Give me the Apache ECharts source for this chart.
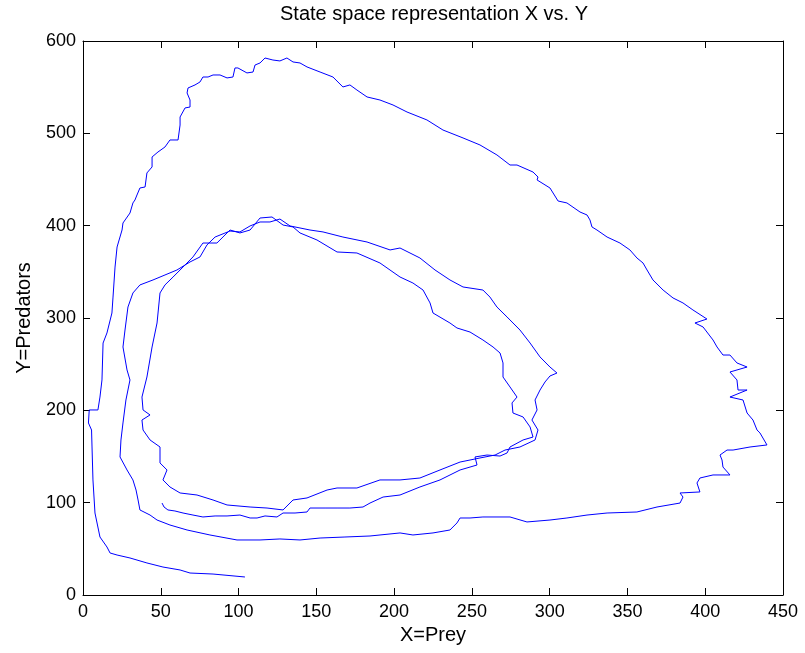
<!DOCTYPE html>
<html>
<head>
<meta charset="utf-8">
<script src="https://cdn.jsdelivr.net/npm/echarts@6/dist/echarts.min.js"></script>
<style>
html,body{margin:0;padding:0;background:#fff;}
#chart{width:805px;height:653px;}
</style>
</head>
<body>
<div id="chart"></div>
<script>
// Axis ticks
const xTicks = [0, 50, 100, 150, 200, 250, 300, 350, 400, 450];
const yTicks = [0, 100, 200, 300, 400, 500, 600];

// Trajectory, in segments (prey X, predators Y)
const firstLoopPrey = [50.8,52.1,54.6,59.1,64.3,70.7,77.1,84.9,92.6,100.9,107.4,111.9,117.0,124.7,128.6,136.3,144.0,145.9,155.6,163.3,171.6,180.0,184.5,192.9,203.8,216.6,229.5,242.4,253.3,252.0,259.7,268.1,272.6,274.5,282.9,289.3,287.4,282.9,276.4,275.8,279.0,274.5,270.0,270.0,268.1,263.6,257.1,248.8,240.4,235.9,225.0,223.1,218.6,212.1,203.8,190.9,176.1,163.3,150.4,139.5,135.0,128.6,121.5,113.8,107.4,100.9,94.5,86.1,77.1,70.7,64.3,57.9,52.7,49.5,47.6,44.4,41.1,37.9,38.6,43.1,37.9,38.6,43.1,49.5,49.5,54.0,51.4,55.9,62.4];
const firstLoopPred = [99.6,95.3,92.1,91.0,88.8,86.6,84.5,85.6,85.6,86.6,83.4,83.4,85.6,84.5,88.8,88.8,89.9,94.2,94.2,94.2,94.2,95.3,99.6,106.1,108.3,117.0,124.6,135.4,140.8,149.5,151.6,150.5,153.8,160.3,167.9,171.1,182.0,192.8,197.1,208.0,214.4,225.3,236.1,251.3,262.1,268.6,276.2,284.8,289.2,294.6,305.4,316.3,330.3,337.9,344.4,359.6,370.4,371.5,384.5,392.1,398.6,400.7,409.4,408.3,395.3,392.1,395.3,381.2,381.2,366.1,355.2,344.4,335.8,327.1,294.6,268.6,236.1,214.4,200.4,195.0,189.5,178.7,167.9,160.3,143.0,135.4,124.6,117.0,110.5];

const secondLoopPrey = [73.3,83.6,92.6,107.4,118.3,128.6,135.0,144.0,156.9,163.3,176.1,190.9,203.8,216.6,229.5,242.4,255.2,264.9,271.3,280.9,290.6,292.5,288.6,291.9,290.6,293.8,297.0,300.2,304.7,300.2,293.8,287.4,280.9,272.6,266.1,261.6,257.1,244.3,235.9,226.3,216.6,203.8,197.4,182.6,167.1,154.3,145.9,139.5,133.1,126.6,120.2,113.8,107.4,100.9,94.5,84.9,79.7,75.2,68.8,60.4,52.7,45.0,36.6,32.1,28.9,27.0,25.7,28.3,30.2,27.6,25.7,24.4,23.8,28.3,32.1,34.1,35.4,36.6,43.1,47.6,55.9,66.9,81.6,99.0,113.8,126.6,139.5,152.4,168.4,184.5,203.8];
const secondLoopPred = [108.3,102.9,97.5,95.3,94.2,92.1,102.9,105.1,113.7,115.9,115.9,124.6,124.6,126.7,135.4,144.0,148.4,151.6,157.0,160.3,167.9,178.7,189.5,200.4,211.2,222.0,230.7,237.2,240.4,246.9,257.8,272.9,287.0,301.1,311.9,322.7,330.3,333.6,341.2,352.0,365.0,375.8,373.7,382.3,387.7,393.2,395.3,397.5,399.7,407.2,404.0,404.0,399.7,393.2,394.2,387.7,379.1,366.1,360.7,352.0,346.6,341.2,335.8,327.1,311.9,287.0,268.6,243.7,232.9,211.2,186.3,167.9,149.5,135.4,124.6,113.7,102.9,92.1,86.6,81.2,75.8,70.4,65.0,59.6,59.6,60.7,59.6,61.7,62.8,63.9,67.2];

const outerLoopPrey = [212.1,225.0,235.9,240.4,242.4,248.8,257.1,274.5,285.4,300.2,311.1,324.0,336.9,356.1,369.0,383.8,385.7,383.8,396.6,394.7,396.6,405.0,415.9,411.4,410.8,409.5,414.0,417.9,428.8,439.7,435.2,433.3,430.7,426.9,424.3,415.9,426.9,421.1,420.4,415.9,426.9,420.4,415.9,411.4,407.6,405.0,398.6,393.4,401.1,392.1,385.7,379.3,372.9,366.4,362.6,360.0,356.1,351.6,345.2,336.9,330.4,327.2,325.9,324.0,319.5,311.1,305.4,300.2,291.9,292.5,289.3,279.0,274.5,266.1,255.2,244.3,231.4,221.1,208.3,199.3,190.9,182.6,176.1,171.6,167.1,160.7,152.4,144.0,139.5,135.0,131.1,126.6,122.1,117.0,113.8,110.6,109.3,105.4,99.6,97.7,96.4,92.6,88.1,83.6,80.4,77.1,75.2,72.0,67.5,66.9,68.8,68.8,65.6,62.4,62.4,61.1,55.9,52.7,48.2,44.4,44.4,41.1,39.9,36.6,34.7,33.4];
const outerLoopPred = [65.0,67.2,70.4,78.0,83.4,83.4,84.5,84.5,79.1,81.2,83.4,86.6,88.8,89.9,95.3,99.6,106.1,110.5,111.6,121.3,126.7,130.0,130.0,138.6,146.2,151.6,157.0,157.0,160.3,162.5,175.5,178.7,189.5,197.1,211.2,214.4,222.0,222.0,232.9,241.5,246.9,251.3,259.9,259.9,268.6,276.2,290.3,294.6,298.9,308.7,316.3,321.7,330.3,341.2,352.0,359.6,365.0,373.7,381.2,387.7,395.3,398.6,406.2,411.6,414.8,424.6,426.7,440.8,449.5,452.7,458.1,465.7,465.7,476.6,487.4,495.0,503.6,514.5,523.1,530.7,536.1,539.4,546.9,552.4,550.2,561.0,566.4,571.9,576.2,577.3,581.6,578.4,579.4,581.6,576.2,574.0,566.4,565.4,570.8,570.8,561.0,560.0,563.2,563.2,561.0,561.0,555.6,552.4,549.1,543.7,536.1,528.5,527.5,517.7,509.0,492.8,492.8,485.2,479.8,474.4,463.6,457.1,441.9,440.8,433.2,427.8];

const declinePrey = [32.1,30.2,25.7,25.1,21.9,20.6,19.3,18.6,15.4,12.9,12.2,10.9,9.6,4.0,3.5,5.5,5.8,6.4,7.7,10.9,15.4,17.4,21.9,30.2,41.1,51.4,62.4,68.8,83.6,104.1];
const declinePred = [424.6,413.7,402.9,395.3,376.9,355.2,322.7,305.4,283.8,272.9,232.9,214.4,200.4,200.4,186.3,178.7,160.3,124.6,88.8,62.8,52.0,45.5,43.3,40.1,34.7,30.3,27.1,23.8,22.7,19.5];

function pairs(xs, ys){ return xs.map((x,i)=>[x, ys[i]]); }
const trajectory = [].concat(
  pairs(firstLoopPrey, firstLoopPred),
  pairs(secondLoopPrey, secondLoopPred),
  pairs(outerLoopPrey, outerLoopPred),
  pairs(declinePrey, declinePred)
);

const FONT = "'Liberation Sans', Arial, Helvetica, sans-serif";
const chart = echarts.init(document.getElementById('chart'), null, {renderer:'canvas'});

function xAxisCfg(pos, showLabels){
  return {
    type:'value', position: pos, min: xTicks[0], max: xTicks[xTicks.length-1], interval: 50,
    axisLine:{show:true, onZero:false, lineStyle:{color:'#000', width:1}},
    axisTick:{show:true, inside:true, length:7, lineStyle:{color:'#000'}},
    axisLabel:{show:showLabels, color:'#000', fontSize:18, fontFamily:FONT, margin:8},
    splitLine:{show:false}
  };
}
function yAxisCfg(pos, showLabels){
  return {
    type:'value', position: pos, min: yTicks[0], max: yTicks[yTicks.length-1], interval: 100,
    axisLine:{show:true, onZero:false, lineStyle:{color:'#000', width:1}},
    axisTick:{show:true, inside:true, length:7, lineStyle:{color:'#000'}},
    axisLabel:{show:showLabels, color:'#000', fontSize:18, fontFamily:FONT, margin:7},
    splitLine:{show:false}
  };
}

const xMain = xAxisCfg('bottom', true);
xMain.name = 'X=Prey'; xMain.nameLocation = 'middle'; xMain.nameGap = 28;
xMain.nameTextStyle = {color:'#000', fontSize:20, fontFamily:FONT};
const yMain = yAxisCfg('left', true);
yMain.name = 'Y=Predators'; yMain.nameLocation = 'middle'; yMain.nameGap = 49;
yMain.nameTextStyle = {color:'#000', fontSize:20, fontFamily:FONT};

chart.setOption({
  animation:false,
  backgroundColor:'#fff',
  title:{
    text:'State space representation X vs. Y',
    left:434, top:4, padding:0, textAlign:'center',
    textStyle:{color:'#000', fontSize:20, fontWeight:'normal', fontFamily:FONT}
  },
  grid:{left:83, right:22, top:41, bottom:58, containLabel:false},
  xAxis:[xMain, xAxisCfg('top', false)],
  yAxis:[yMain, yAxisCfg('right', false)],
  series:[{
    type:'line',
    xAxisIndex:0, yAxisIndex:0,
    data: trajectory,
    showSymbol:false,
    symbol:'none',
    lineStyle:{color:'#0000ff', width:1},
    z:3
  }]
});
</script>
</body>
</html>
